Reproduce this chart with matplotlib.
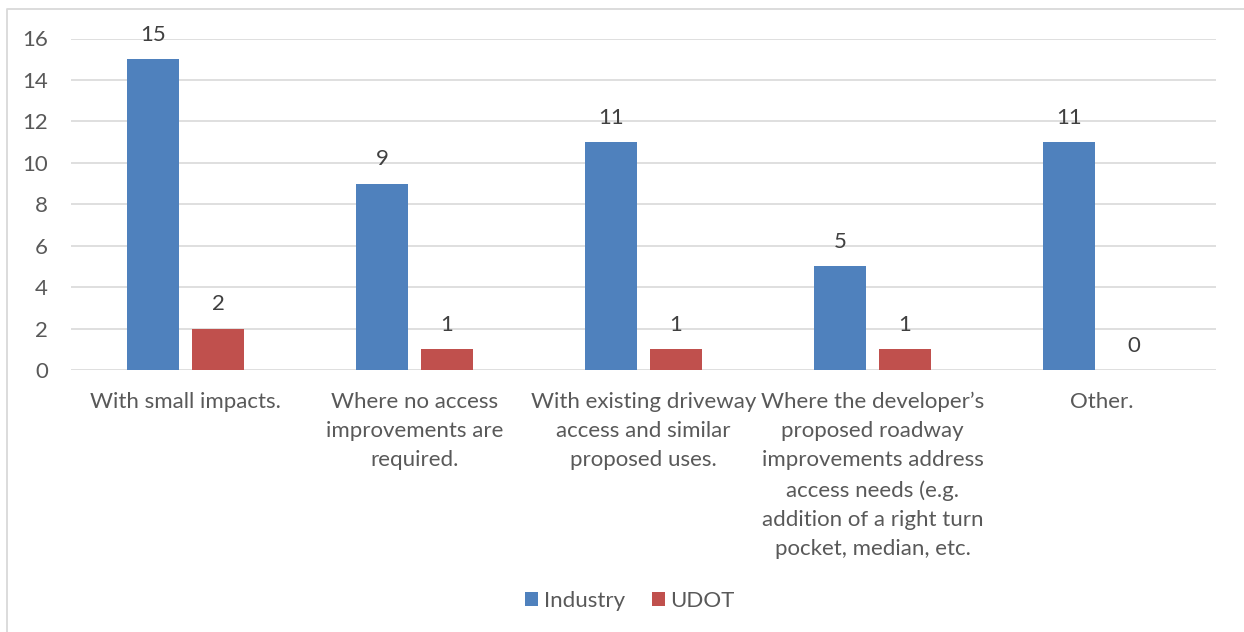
import matplotlib
matplotlib.use("Agg")
import matplotlib.pyplot as plt
from matplotlib.lines import Line2D
import numpy as np

categories = [
    "With small impacts.",
    "Where no access\nimprovements are\nrequired.",
    "With existing driveway\naccess and similar\nproposed uses.",
    "Where the developer\u2019s\nproposed roadway\nimprovements address\naccess needs (e.g.\naddition of a right turn\npocket, median, etc.",
    "Other.",
]
industry = [15, 9, 11, 5, 11]
udot = [2, 1, 1, 1, 0]
series_names = ["Industry", "UDOT"]
y_ticks = [0, 2, 4, 6, 8, 10, 12, 14, 16]

BLUE = "#4F81BD"
RED = "#C0504D"
TEXT = "#595959"
GRID = "#D9D9D9"

plt.rcParams["font.family"] = ["Lato", "DejaVu Sans"]
FS = 16

W, H = 1244, 632
fig = plt.figure(figsize=(W / 100, H / 100), dpi=100)
ax = fig.add_axes([71 / W, 1 - 370 / H, (1216 - 71) / W, (370 - 38.5) / H])

x = np.arange(len(categories))
bw = 0.223
off = 0.142
b1 = ax.bar(x - off, industry, bw, color=BLUE, label=series_names[0], zorder=3)
b2 = ax.bar(x + off, udot, bw, color=RED, label=series_names[1], zorder=3)

for bars, vals in ((b1, industry), (b2, udot)):
    for rect, v in zip(bars, vals):
        ax.text(rect.get_x() + rect.get_width() / 2, v + 0.68, f"{v}",
                ha="center", va="bottom", fontsize=FS, color="#404040")

ax.set_xlim(-0.5, len(categories) - 0.5)
ax.set_ylim(0, 16)
ax.set_yticks(y_ticks)
ax.yaxis.grid(True, color=GRID, linewidth=1.2, zorder=0)
ax.set_axisbelow(True)
for s in ax.spines.values():
    s.set_visible(False)
ax.tick_params(axis="y", length=0, labelsize=FS, labelcolor=TEXT, pad=16.5)
ax.tick_params(axis="x", length=0, labelsize=FS, labelcolor=TEXT, pad=15.5)
ax.set_xticks(x)
ax.set_xticklabels(categories, linespacing=1.58, va="top")

leg = fig.legend(handles=[b1, b2], labels=series_names, loc="center",
                 bbox_to_anchor=(630 / W, 1 - 601 / H), ncol=2, frameon=False,
                 fontsize=FS, handlelength=0.6, handleheight=0.6,
                 handletextpad=0.25, columnspacing=1.2)
for t in leg.get_texts():
    t.set_color(TEXT)

# outer chart border (left and top edges)
fig.add_artist(Line2D([6.5 / W, 6.5 / W, 1.0], [0.0, 1 - 9 / H, 1 - 9 / H],
                      transform=fig.transFigure, color="#D9D9D9", linewidth=1.3))

fig.savefig("out.png", dpi=100)
